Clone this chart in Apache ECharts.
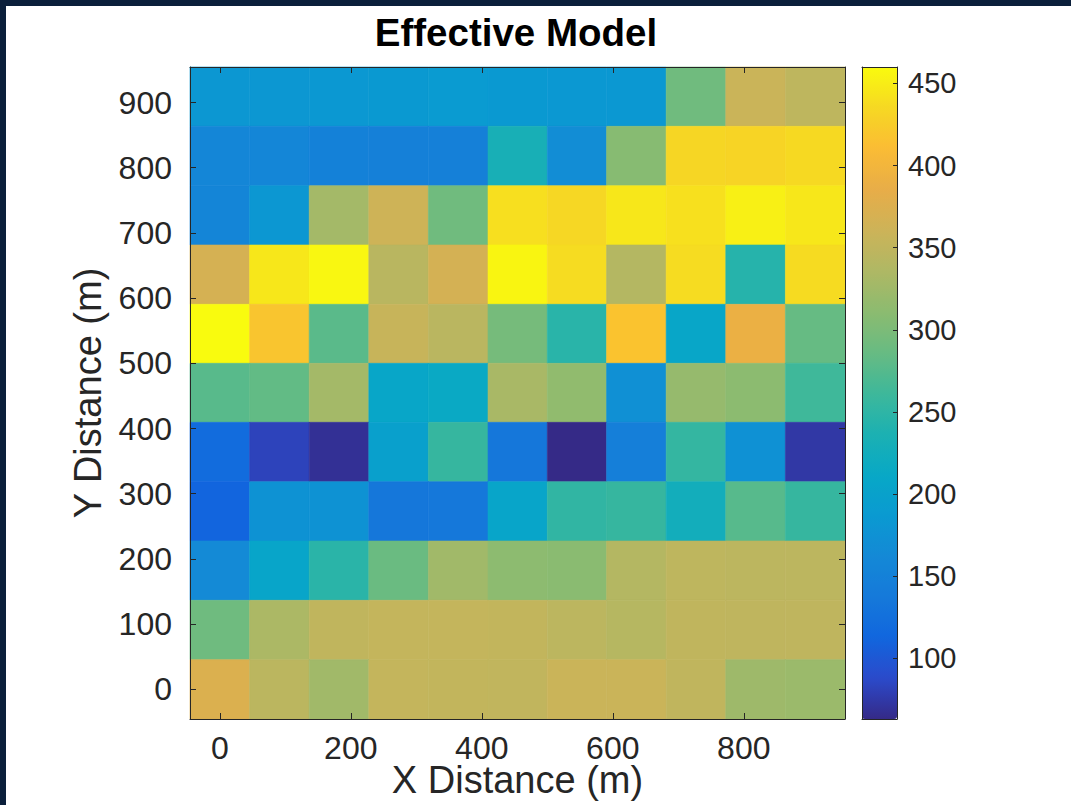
<!DOCTYPE html>
<html>
<head>
<meta charset="utf-8">
<title>Effective Model</title>
<script src="https://cdn.jsdelivr.net/npm/echarts@6/dist/echarts.min.js"></script>
<style>
  html, body { margin: 0; padding: 0; background: #0b1f3b; }
  #chart { position: absolute; left: 6px; top: 6px; width: 1065px; height: 799px; background: #ffffff; }
</style>
</head>
<body>
<div id="chart"></div>
<script>
// Cell centres (m)
const xCenters = [0, 91, 182, 273, 364, 455, 545, 636, 727, 818, 909];
const yCenters = [909, 818, 727, 636, 545, 455, 364, 273, 182, 91, 0]; // top row first

// Effective model values, one row per yCenters entry, one column per xCenters entry
const modelValues = [
  [183, 183, 184, 186, 188, 186, 184, 184, 292, 358, 348],
  [157, 158, 150, 149, 148, 232, 168, 308, 433, 432, 436],
  [156, 182, 328, 362, 292, 440, 434, 446, 441, 452, 446],
  [368, 446, 457, 344, 367, 456, 438, 340, 438, 244, 437],
  [460, 418, 278, 356, 345, 296, 246, 417, 208, 390, 285],
  [277, 283, 328, 208, 214, 332, 315, 172, 318, 311, 262],
  [120,  82,  68, 198, 256, 135,  63, 146, 254, 174,  74],
  [112, 176, 176, 135, 136, 206, 252, 256, 226, 276, 256],
  [163, 206, 247, 288, 326, 312, 310, 340, 348, 347, 347],
  [291, 334, 350, 353, 353, 352, 347, 342, 350, 349, 349],
  [374, 346, 326, 353, 352, 351, 358, 358, 350, 324, 322]
];

// Tick labels
const xTicks = [0, 200, 400, 600, 800];
const yTicks = [0, 100, 200, 300, 400, 500, 600, 700, 800, 900];
const colorTicks = [100, 150, 200, 250, 300, 350, 400, 450];

// Parula-style colormap, evenly spaced from low to high
const parula = [
  '#352a87', '#2b4acb', '#1166de', '#1579da', '#1489d6', '#0a9ad1',
  '#08a8c6', '#1cb1b2', '#3eb89a', '#68bb82', '#8cbb70', '#afb864',
  '#cdb358', '#e8ad48', '#fbbc34', '#f6d823', '#f9fb0e'
];

const FONT = '"Liberation Sans", Arial, Helvetica, sans-serif';
const INK = '#262626';

// Edges of a cell from the midpoints to its neighbours
function cellBounds(c, i) {
  const a = i > 0 ? (c[i - 1] + c[i]) / 2 : c[i] - (c[i + 1] - c[i]) / 2;
  const b = i < c.length - 1 ? (c[i] + c[i + 1]) / 2 : c[i] + (c[i] - c[i - 1]) / 2;
  return [Math.min(a, b), Math.max(a, b)];
}

const cells = [];
yCenters.forEach((y, r) => {
  const [y0, y1] = cellBounds(yCenters, r);
  xCenters.forEach((x, c) => {
    const [x0, x1] = cellBounds(xCenters, c);
    cells.push([x, y, modelValues[r][c], x0, x1, y0, y1]);
  });
});

const xMin = cellBounds(xCenters, 0)[0];
const xMax = cellBounds(xCenters, xCenters.length - 1)[1];
const yMin = cellBounds(yCenters, yCenters.length - 1)[0];
const yMax = cellBounds(yCenters, 0)[1];

const allValues = modelValues.flat();
const cMin = Math.min(...allValues);
const cMax = Math.max(...allValues);

function renderCell(params, api) {
  const tl = api.coord([api.value(3), api.value(6)]);
  const br = api.coord([api.value(4), api.value(5)]);
  const color = api.visual('color');
  return {
    type: 'rect',
    shape: { x: tl[0], y: tl[1], width: br[0] - tl[0], height: br[1] - tl[1] },
    style: { fill: color, stroke: color, lineWidth: 0.6 }
  };
}

const boxLine = { show: true, onZero: false, lineStyle: { color: INK, width: 1 } };
const noSplit = { show: false };

const chart = echarts.init(document.getElementById('chart'), null, { renderer: 'svg' });
chart.setOption({
  animation: false,
  backgroundColor: '#ffffff',
  textStyle: { fontFamily: FONT },
  graphic: [{
    type: 'text',
    x: 510,
    y: 26,
    style: {
      text: 'Effective Model',
      fill: '#000000',
      font: 'bold 38.5px ' + FONT,
      align: 'center',
      verticalAlign: 'middle',
      textAlign: 'center',
      textVerticalAlign: 'middle'
    }
  }],
  grid: [
    { left: 184, top: 61, width: 655, height: 652, containLabel: false, outerBoundsMode: 'none' },
    { left: 856, top: 61, width: 35, height: 652, containLabel: false, outerBoundsMode: 'none' }
  ],
  xAxis: [
    {
      gridIndex: 0, type: 'value', min: xMin, max: xMax, position: 'bottom', z: 5,
      axisLine: boxLine,
      axisTick: { show: true, inside: true, length: 6, customValues: xTicks, lineStyle: { color: INK } },
      axisLabel: { show: true, customValues: xTicks, margin: 17, fontSize: 32, lineHeight: 24, color: INK, fontFamily: FONT },
      splitLine: noSplit,
      name: 'X Distance (m)', nameLocation: 'middle', nameGap: 46, nameMoveOverlap: false,
      nameTextStyle: { fontSize: 38, lineHeight: 30, color: INK, fontFamily: FONT }
    },
    {
      gridIndex: 0, type: 'value', min: xMin, max: xMax, position: 'top', z: 5,
      axisLine: boxLine,
      axisTick: { show: true, inside: true, length: 6, customValues: xTicks, lineStyle: { color: INK } },
      axisLabel: { show: false },
      splitLine: noSplit
    },
    {
      gridIndex: 1, type: 'value', min: 0, max: 1, position: 'bottom', z: 5,
      axisLine: boxLine, axisTick: { show: false }, axisLabel: { show: false }, splitLine: noSplit
    },
    {
      gridIndex: 1, type: 'value', min: 0, max: 1, position: 'top', z: 5,
      axisLine: boxLine, axisTick: { show: false }, axisLabel: { show: false }, splitLine: noSplit
    }
  ],
  yAxis: [
    {
      gridIndex: 0, type: 'value', min: yMin, max: yMax, position: 'left', z: 5,
      axisLine: boxLine,
      axisTick: { show: true, inside: true, length: 6, customValues: yTicks, lineStyle: { color: INK } },
      axisLabel: { show: true, customValues: yTicks, margin: 18, fontSize: 32, color: INK, fontFamily: FONT },
      splitLine: noSplit,
      name: 'Y Distance (m)', nameLocation: 'middle', nameGap: 83, nameMoveOverlap: false,
      nameTextStyle: { fontSize: 38, color: INK, fontFamily: FONT }
    },
    {
      gridIndex: 0, type: 'value', min: yMin, max: yMax, position: 'right', z: 5,
      axisLine: boxLine,
      axisTick: { show: true, inside: true, length: 6, customValues: yTicks, lineStyle: { color: INK } },
      axisLabel: { show: false },
      splitLine: noSplit
    },
    {
      gridIndex: 1, type: 'value', min: cMin, max: cMax, position: 'right', z: 5,
      axisLine: boxLine,
      axisTick: { show: true, inside: true, length: 4, customValues: colorTicks, lineStyle: { color: INK } },
      axisLabel: { show: true, customValues: colorTicks, margin: 11, fontSize: 29, color: INK, fontFamily: FONT },
      splitLine: noSplit
    },
    {
      gridIndex: 1, type: 'value', min: cMin, max: cMax, position: 'left', z: 5,
      axisLine: boxLine, axisTick: { show: false }, axisLabel: { show: false }, splitLine: noSplit
    }
  ],
  visualMap: {
    type: 'continuous',
    min: cMin,
    max: cMax,
    dimension: 2,
    seriesIndex: 0,
    calculable: false,
    hoverLink: false,
    orient: 'vertical',
    left: 856,
    top: 61,
    padding: 0,
    itemWidth: 35,
    itemHeight: 652,
    inRange: { color: parula }
  },
  series: [{
    type: 'custom',
    xAxisIndex: 0,
    yAxisIndex: 0,
    dimensions: ['x', 'y', 'value', 'x0', 'x1', 'y0', 'y1'],
    encode: { x: 0, y: 1 },
    renderItem: renderCell,
    data: cells,
    z: 2
  }]
});
</script>
</body>
</html>
